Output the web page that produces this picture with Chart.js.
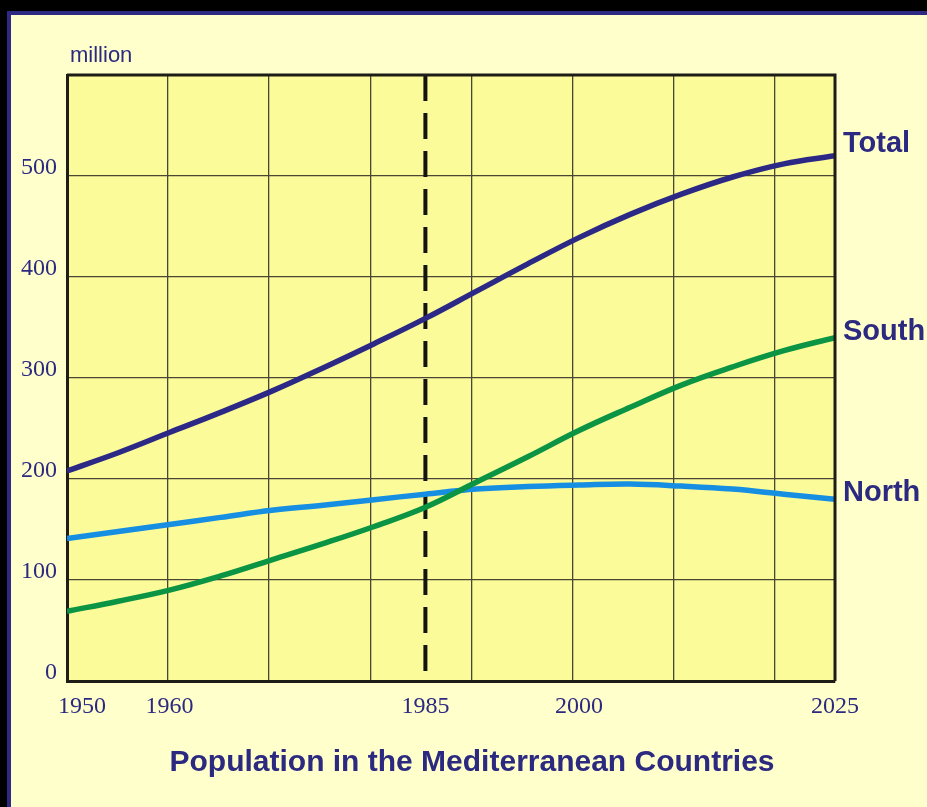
<!DOCTYPE html>
<html>
<head>
<meta charset="utf-8">
<script src="https://cdn.jsdelivr.net/npm/chart.js@4"></script>
<style>
  html, body { margin: 0; padding: 0; background: #000; overflow: hidden; }
  .panel {
    position: absolute; left: 7px; top: 11px; width: 1000px; height: 900px;
    background: #ffffcc; border: 4px solid #2e2a84; box-sizing: border-box;
  }
  #wrap { position: absolute; left: 0; top: 0; width: 927px; height: 807px; }
</style>
</head>
<body>
<div class="panel"></div>
<div id="wrap"><canvas id="chart" width="927" height="807"></canvas></div>
<script>
// Population in the Mediterranean Countries (million)
const YEARS = [1950, 1955, 1960, 1965, 1970, 1975, 1980, 1985, 1990, 1995, 2000, 2005, 2010, 2015, 2020, 2025];
const TOTAL = [208, 226, 246, 266, 287, 310, 334, 359, 386, 413, 439, 462, 482, 499, 512, 520];
const SOUTH = [69, 79, 90, 104, 120, 136, 153, 172, 197, 222, 248, 271, 293, 311, 327, 340];
const NORTH = [141, 148, 155, 162, 169, 174, 179.5, 185, 190, 192.5, 194, 195, 193, 190, 185, 180];
const SERIES_NAMES = ['Total', 'South', 'North'];
const TICK_YEARS = [1950, 1960, 1985, 2000, 2025];
const MARK_YEAR = 1985;
const Y_TICKS = [0, 100, 200, 300, 400, 500, 600];

const NAVY = '#2c2a80';
const LINE_COLORS = ['#2b2886', '#0a9444', '#168ee2'];
const GRID_STEP = 75 / 7.6;   // vertical grid spacing of the original drawing
const LABEL_DY = [-12, -6, -6];

const decorations = {
    id: 'decorations',
    beforeDraw(chart) {
        const { ctx, chartArea: a } = chart;
        ctx.save();
        ctx.fillStyle = '#fcfb99';
        ctx.fillRect(a.left, a.top, a.right - a.left, a.bottom - a.top);
        ctx.restore();
    },
    beforeDatasetsDraw(chart) {
        const { ctx, chartArea: a } = chart;
        const x = chart.scales.x.getPixelForValue(MARK_YEAR);
        ctx.save();
        ctx.strokeStyle = '#161410';
        ctx.lineWidth = 4;
        ctx.setLineDash([26, 12]);
        ctx.beginPath();
        ctx.moveTo(x, a.top);
        ctx.lineTo(x, a.bottom);
        ctx.stroke();
        ctx.restore();
    },
    afterDraw(chart) {
        const { ctx, chartArea: a } = chart;
        ctx.save();
        // top and right frame
        ctx.strokeStyle = '#1e1c16';
        ctx.lineWidth = 3;
        ctx.beginPath();
        ctx.moveTo(a.left, a.top);
        ctx.lineTo(a.right, a.top);
        ctx.lineTo(a.right, a.bottom);
        ctx.stroke();

        ctx.fillStyle = NAVY;
        ctx.font = '22px "Liberation Sans", Arial, sans-serif';
        ctx.textBaseline = 'alphabetic';
        ctx.textAlign = 'left';
        ctx.fillText('million', 70, 62);

        ctx.font = 'bold 29px "Liberation Sans", Arial, sans-serif';
        ctx.textBaseline = 'middle';
        SERIES_NAMES.forEach((name, i) => {
            const pts = chart.getDatasetMeta(i).data;
            const last = pts[pts.length - 1];
            ctx.fillText(name, a.right + 8, last.y + LABEL_DY[i]);
        });

        ctx.font = 'bold 30px "Liberation Sans", Arial, sans-serif';
        ctx.textAlign = 'center';
        ctx.fillText('Population in the Mediterranean Countries', 472, 763);
        ctx.restore();
    }
};

const toPoints = arr => YEARS.map((y, i) => ({ x: y, y: arr[i] }));

new Chart(document.getElementById('chart'), {
    type: 'line',
    data: {
        datasets: [TOTAL, SOUTH, NORTH].map((arr, i) => ({
            label: SERIES_NAMES[i],
            data: toPoints(arr),
            borderColor: LINE_COLORS[i],
            borderWidth: 5.5,
            pointRadius: 0,
            tension: 0.4,
            xAxisID: 'x',
            yAxisID: 'y'
        }))
    },
    options: {
        responsive: false,
        animation: false,
        layout: { padding: { left: 0, top: 75, right: 92, bottom: 0 } },
        plugins: { legend: { display: false }, tooltip: { enabled: false } },
        scales: {
            x: {
                type: 'linear', position: 'bottom', weight: 0,
                min: 1950, max: 2025,
                afterBuildTicks: s => {
                    const t = [];
                    for (let k = 0; k * GRID_STEP < 75; k++) t.push({ value: 1950 + k * GRID_STEP });
                    t.push({ value: 2025 });
                    s.ticks = t;
                },
                afterFit: s => { s.height = 0; },
                ticks: { display: false },
                grid: { color: '#4a4634', lineWidth: 1.3, drawTicks: false },
                border: { color: '#1e1c16', width: 3 }
            },
            x2: {
                type: 'linear', position: 'bottom', weight: 1,
                min: 1950, max: 2025,
                afterBuildTicks: s => { s.ticks = TICK_YEARS.map(v => ({ value: v })); },
                afterFit: s => { s.height = 126; },
                ticks: {
                    color: NAVY,
                    padding: 11,
                    maxRotation: 0,
                    autoSkip: false,
                    font: { family: '"Liberation Serif", "Times New Roman", serif', size: 24 },
                    callback: v => v === 1950 ? '     1950' : String(v)
                },
                grid: { display: false, drawTicks: false },
                border: { display: false }
            },
            y: {
                min: 0, max: 600,
                afterBuildTicks: s => { s.ticks = Y_TICKS.map(v => ({ value: v })); },
                afterFit: s => { s.width = 67; },
                ticks: {
                    color: NAVY,
                    padding: 10,
                    labelOffset: -8,
                    font: { family: '"Liberation Serif", "Times New Roman", serif', size: 24 },
                    callback: v => v === 600 ? '' : String(v)
                },
                grid: { color: '#4a4634', lineWidth: 1.3, drawTicks: false },
                border: { color: '#1e1c16', width: 3 }
            }
        }
    },
    plugins: [decorations]
});
</script>
</body>
</html>
